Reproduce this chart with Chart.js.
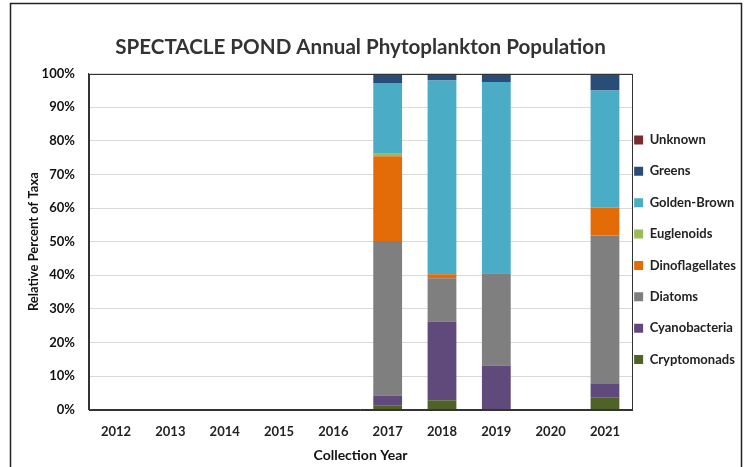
<!DOCTYPE html>
<html>
<head>
<meta charset="utf-8">
<script src="https://cdn.jsdelivr.net/npm/chart.js@4"></script>
<style>
  html, body { margin: 0; padding: 0; background: #fff; }
  #wrap { width: 750px; height: 467px; position: relative; }
</style>
</head>
<body>
<div id="wrap"><canvas id="chart" width="750" height="467"></canvas></div>
<script>
// Collection years (x categories)
const years = ["2012", "2013", "2014", "2015", "2016", "2017", "2018", "2019", "2020", "2021"];

// Relative percent of taxa per year
const cryptomonads    = [0, 0, 0, 0, 0, 1.3, 2.8, 0, 0, 3.5];
const cyanobacteria   = [0, 0, 0, 0, 0, 2.9, 23.4, 13.1, 0, 4.1];
const diatoms         = [0, 0, 0, 0, 0, 46.0, 12.9, 27.5, 0, 44.2];
const dinoflagellates = [0, 0, 0, 0, 0, 25.2, 1.2, 0, 0, 8.4];
const euglenoids      = [0, 0, 0, 0, 0, 0.8, 0, 0, 0, 0];
const goldenBrown     = [0, 0, 0, 0, 0, 21.0, 57.7, 56.9, 0, 34.8];
const greens          = [0, 0, 0, 0, 0, 2.8, 2.0, 2.5, 0, 5.0];
const unknown         = [0, 0, 0, 0, 0, 0, 0, 0, 0, 0];

const FONT = "Lato, 'Open Sans', sans-serif";

// dark box round the plot area and the outer chart frame
const framePlugin = {
  id: "frame",
  beforeDraw(chart) {
    const ctx = chart.ctx;
    ctx.save();
    ctx.strokeStyle = "#222";
    ctx.lineWidth = 1.5;
    ctx.strokeRect(10.5, 3.5, 731, 480);
    ctx.restore();
  },
  afterDatasetsDraw(chart) {
    const a = chart.chartArea;
    const ctx = chart.ctx;
    ctx.save();
    ctx.strokeStyle = "#333";
    ctx.lineWidth = 1;
    ctx.strokeRect(Math.round(a.left) + 0.5, Math.round(a.top) + 0.5, Math.round(a.right - a.left), Math.round(a.bottom - a.top));
    ctx.restore();
  },
};

function ds(label, data, color) {
  return { label, data, backgroundColor: color, borderWidth: 0 };
}

new Chart(document.getElementById("chart"), {
  type: "bar",
  data: {
    labels: years,
    datasets: [
      ds("Cryptomonads", cryptomonads, "#4F6228"),
      ds("Cyanobacteria", cyanobacteria, "#604A7B"),
      ds("Diatoms", diatoms, "#7F7F7F"),
      ds("Dinoflagellates", dinoflagellates, "#E36C09"),
      ds("Euglenoids", euglenoids, "#9BBB59"),
      ds("Golden-Brown", goldenBrown, "#4BACC6"),
      ds("Greens", greens, "#2A4D78"),
      ds("Unknown", unknown, "#7B2C2C"),
    ],
  },
  options: {
    responsive: false,
    animation: false,
    datasets: { bar: { categoryPercentage: 1.0, barPercentage: 0.53 } },
    layout: { padding: { left: 26, right: 4, top: 35, bottom: 3 } },
    plugins: {
      title: {
        display: true,
        fullSize: false,
        text: "SPECTACLE POND Annual Phytoplankton Population",
        color: "#333",
        font: { family: FONT, size: 20.6, weight: "bold" },
        padding: { top: 0, bottom: 14 },
      },
      legend: {
        position: "right",
        reverse: true,
        maxWidth: 130,
        title: { display: true, text: " ", padding: 0, font: { size: 14 } },
        labels: {
          boxWidth: 9,
          boxHeight: 9,
          padding: 2,
          color: "#222",
          font: { family: FONT, size: 13, weight: "bold", lineHeight: 2.26 },
          // one-line arrays so the row height follows the font lineHeight
          generateLabels(chart) {
            return Chart.defaults.plugins.legend.labels.generateLabels(chart).map((l) => ({ ...l, text: [l.text] }));
          },
        },
      },
      tooltip: { enabled: false },
    },
    scales: {
      x: {
        stacked: true,
        grid: { display: false, drawTicks: false },
        border: { color: "#333" },
        ticks: { color: "#222", font: { family: FONT, size: 13, weight: "bold" }, padding: 14 },
        title: {
          display: true,
          text: "Collection Year",
          color: "#111",
          font: { family: FONT, size: 14, weight: "bold" },
          padding: { top: -6, bottom: 0 },
        },
      },
      y: {
        stacked: true,
        min: 0,
        max: 100,
        grid: { color: "#d9d9d9", drawTicks: false },
        border: { color: "#333" },
        ticks: {
          stepSize: 10,
          color: "#111",
          padding: 14,
          font: { family: FONT, size: 13, weight: "bold" },
          callback: (v) => v + "%",
        },
        title: {
          display: true,
          text: "Relative Percent of Taxa",
          color: "#111",
          font: { family: FONT, size: 13, weight: "bold" },
          padding: { top: 0, bottom: -14 },
        },
      },
    },
  },
  plugins: [framePlugin],
});
</script>
</body>
</html>
